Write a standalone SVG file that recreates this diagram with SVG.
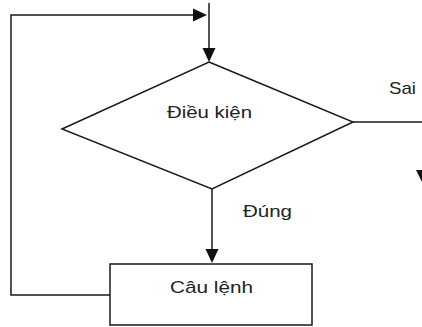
<svg xmlns="http://www.w3.org/2000/svg" width="422" height="327" viewBox="0 0 422 327">
<style>
.ln{fill:none;stroke:#1a1a1a;stroke-width:1.5}
.sh{fill:#fff;stroke:#1a1a1a;stroke-width:1.5}
.ah{fill:#111;stroke:none}
text{font-family:"Liberation Sans",Arial,sans-serif;font-size:17px;fill:#222}
</style>
<rect width="422" height="327" fill="#fff"/>
<g id="connectors">
<polyline class="ln" points="110,295 11,295 11,15 196,15"/>
<polygon class="ah" points="207,15 193,8.5 193,21.5"/>
<line class="ln" x1="209" y1="3" x2="209" y2="50"/>
<polygon class="ah" points="209,62 202.5,48 215.5,48"/>
<polyline class="ln" points="353,122 423,122 423,172"/>
<polygon class="ah" points="423,184 416,170 430,170"/>
<line class="ln" x1="212" y1="189" x2="212" y2="250"/>
<polygon class="ah" points="212,263 205.5,249 218.5,249"/>
<text x="389" y="94" textLength="27" lengthAdjust="spacingAndGlyphs">Sai</text>
<text x="243" y="217" textLength="49" lengthAdjust="spacingAndGlyphs">Đúng</text>
</g>
<g id="condition">
<polygon class="sh" points="209,62 353,122 212,189 62,129"/>
<text x="167" y="118" textLength="85" lengthAdjust="spacingAndGlyphs">Điều kiện</text>
</g>
<g id="statement">
<rect class="sh" x="110" y="264" width="202" height="61"/>
<text x="170" y="293" textLength="83" lengthAdjust="spacingAndGlyphs">Câu lệnh</text>
</g>
</svg>
